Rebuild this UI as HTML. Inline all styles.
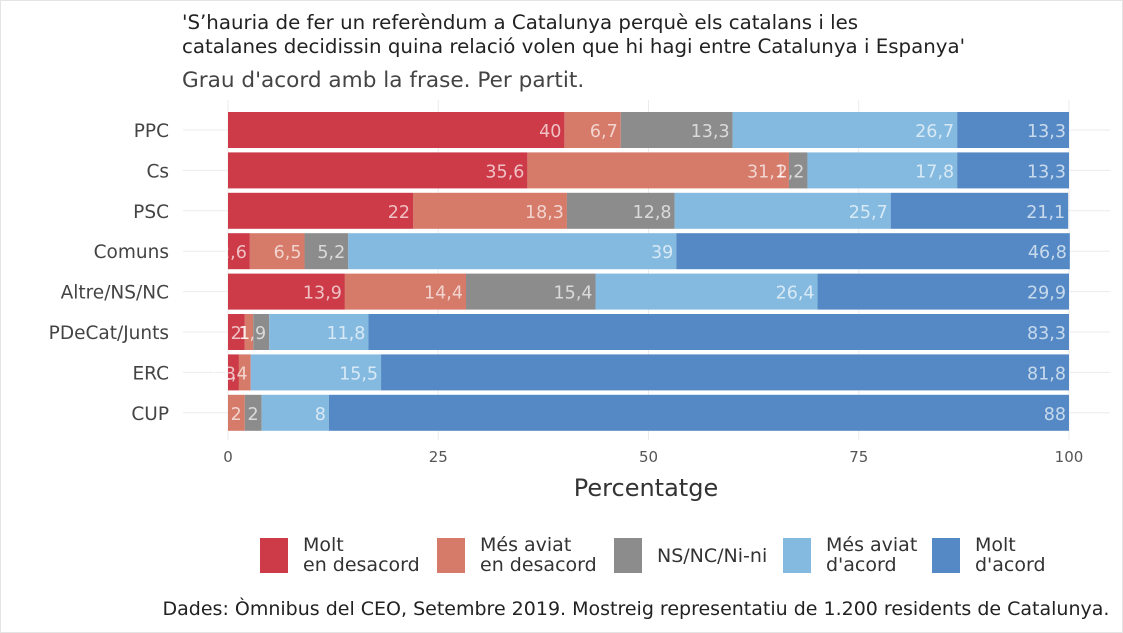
<!DOCTYPE html>
<html><head><meta charset="utf-8"><style>
body{margin:0;background:#fff;}
svg{display:block;font-family:"DejaVu Sans","Liberation Sans",sans-serif;}
</style></head><body>
<svg id="c" width="1123" height="633" viewBox="0 0 1123 633">
<rect x="0.5" y="0.5" width="1122" height="632" fill="#fff" stroke="#e4e4e4"/>
<text x="182" y="29" font-size="19.8" fill="#222">'S’hauria de fer un referèndum a Catalunya perquè els catalans i les</text>
<text x="182" y="53" font-size="19.8" fill="#222">catalanes decidissin quina relació volen que hi hagi entre Catalunya i Espanya'</text>
<text x="182" y="87" font-size="21.6" fill="#444">Grau d'acord amb la frase. Per partit.</text>
<g id="grid"></g><g id="bars"></g><g id="axes"></g><g id="legend"></g>
<text x="646" y="496" font-size="24" fill="#333" text-anchor="middle">Percentatge</text>
<text x="636" y="615" font-size="19" fill="#222" text-anchor="middle">Dades: Òmnibus del CEO, Setembre 2019. Mostreig representatiu de 1.200 residents de Catalunya.</text>
</svg>
<script>
const categories=["PPC","Cs","PSC","Comuns","Altre/NS/NC","PDeCat/Junts","ERC","CUP"];
const seriesNames=["Molt\nen desacord","Més aviat\nen desacord","NS/NC/Ni-ni","Més aviat\nd'acord","Molt\nd'acord"];
const moltDesacord=[40,35.6,22,2.6,13.9,2,1.3,0];
const avDesacord=[6.7,31.1,18.3,6.5,14.4,1,1.4,2];
const nsnc=[13.3,2.2,12.8,5.2,15.4,1.9,0,2];
const avAcord=[26.7,17.8,25.7,39,26.4,11.8,15.5,8];
const moltAcord=[13.3,13.3,21.1,46.8,29.9,83.3,81.8,88];
const labDesacord=["40","35,6","22","2,6","13,9","2","1,3",""];
const labAvDes=["6,7","31,1","18,3","6,5","14,4","1","1,4","2"];
const labNs=["13,3","2,2","12,8","5,2","15,4","1,9","","2"];
const labAvAc=["26,7","17,8","25,7","39","26,4","11,8","15,5","8"];
const labMolt=["13,3","13,3","21,1","46,8","29,9","83,3","81,8","88"];
const ticks=[0,25,50,75,100];
const colors=["#cc3b47","#d67a69","#8c8c8c","#84bae0","#5489c5"];
const NS="http://www.w3.org/2000/svg";
const x=v=>228+v*8.41;
const y=i=>130+i*40.4;
function mk(t,a,p){const e=document.createElementNS(NS,t);for(const k in a)e.setAttribute(k,a[k]);p.appendChild(e);return e;}
const grid=document.getElementById('grid'),bars=document.getElementById('bars'),axes=document.getElementById('axes'),leg=document.getElementById('legend');
ticks.forEach(t=>{const l=mk('line',{x1:x(t),x2:x(t),y1:100,y2:440,stroke:'#ebebeb'},grid);


const tx=mk('text',{x:x(t),y:462,'font-size':15,fill:'#555','text-anchor':'middle'},axes);tx.textContent=t;

});
const series=[moltDesacord,avDesacord,nsnc,avAcord,moltAcord];
const labs=[labDesacord,labAvDes,labNs,labAvAc,labMolt];
categories.forEach((c,i)=>{
const g=mk('line',{x1:183,x2:1110,y1:y(i),y2:y(i),stroke:'#ebebeb'},grid);


const t=mk('text',{x:169,y:y(i)+7,'font-size':18.5,fill:'#444','text-anchor':'end'},axes);t.textContent=c;


let cum=0;
series.forEach((s,k)=>{const v=s[i];if(v>0){
const r=mk('rect',{x:x(cum),y:y(i)-18,width:x(cum+v)-x(cum),height:36,fill:colors[k]},bars);

}
cum+=v;
if(labs[k][i]){const tl=mk('text',{x:x(cum)-3,y:y(i)+7,'font-size':17.5,fill:'rgba(255,255,255,0.68)','text-anchor':'end'},bars);tl.textContent=labs[k][i];

}
});
});
const lx=[260,437,614,783,932];
seriesNames.forEach((n,k)=>{
const r=mk('rect',{x:lx[k],y:538,width:28,height:35,fill:colors[k]},leg);


const parts=n.split('\n');
const t=mk('text',{x:lx[k]+43,'font-size':19,fill:'#333'},leg);


if(parts.length===1){t.setAttribute('y',562);t.textContent=parts[0];}
else parts.forEach((p,j)=>{const s=mk('tspan',{x:lx[k]+43,y:551+j*20},t);s.textContent=p;});
});
</script>
</body></html>
